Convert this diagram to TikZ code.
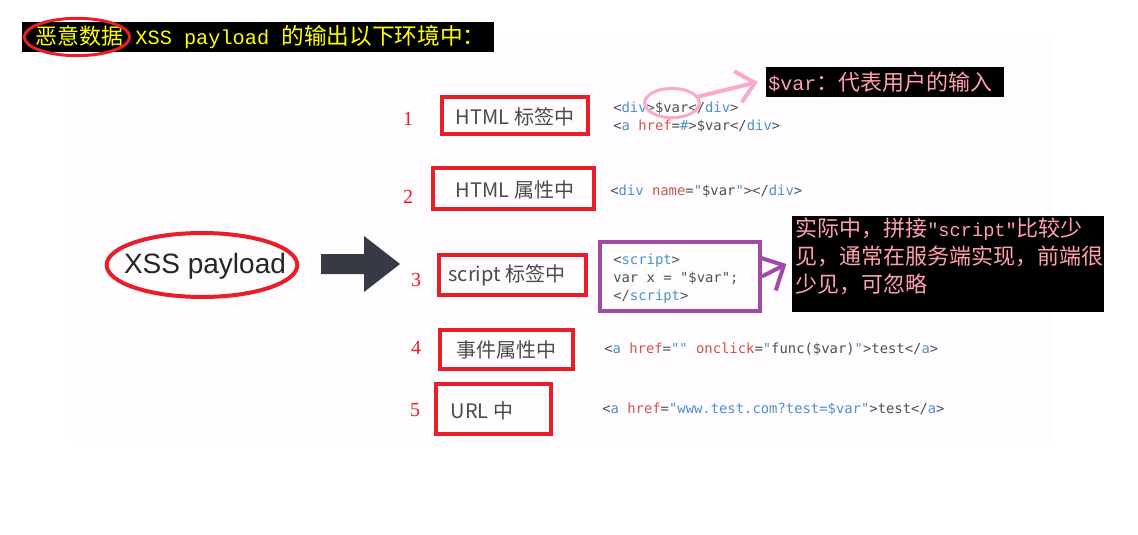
\documentclass[tikz,border=0pt]{standalone}
\usepackage{fontspec}
\usetikzlibrary{arrows.meta,shapes.geometric}
\newfontfamily\cjk{Noto Sans CJK SC}
\newfontfamily\monoA{Liberation Mono}
\newfontfamily\codefont{DejaVu Sans Mono}
\newfontfamily\numfont{Liberation Serif}
\newfontfamily\sansA{Liberation Sans}
\definecolor{slidebg}{RGB}{254,252,254}
\definecolor{boxred}{RGB}{232,30,40}
\definecolor{titleyellow}{RGB}{255,255,0}
\definecolor{notepink}{RGB}{255,160,175}
\definecolor{linepink}{RGB}{248,170,200}
\definecolor{boxpurple}{RGB}{160,75,165}
\definecolor{arrowdark}{RGB}{54,58,69}
\definecolor{codegray}{RGB}{80,80,80}
\definecolor{codeblue}{RGB}{75,145,205}
\definecolor{codered}{RGB}{205,85,75}
\definecolor{handgray}{RGB}{75,75,75}
\newcommand\cgy[1]{\textcolor{codegray}{#1}}
\newcommand\cbu[1]{\textcolor{codeblue}{#1}}
\newcommand\crd[1]{\textcolor{codered}{#1}}
\newcommand\fcjk{\cjk\fontsize{16.5pt}{21pt}\selectfont}
\newcommand\fcjkT{\cjk\fontsize{17pt}{21pt}\selectfont}
\newcommand\fmonoT{\monoA\fontsize{15.2pt}{20pt}\selectfont}
\tikzset{
  x=0.75pt, y=-0.75pt,
  blackbox/.style={fill=black, draw=none, inner sep=0pt},
  redbox/.style={draw=boxred, line width=3pt, inner sep=0pt},
  numlabel/.style={text=boxred, font=\numfont\fontsize{15pt}{18pt}\selectfont, inner sep=0pt},
  handlabel/.style={text=handgray, font=\cjk\fontsize{15pt}{18pt}\selectfont, inner sep=0pt},
  codeline/.style={anchor=west, inner sep=0pt, font=\codefont\fontsize{10.4pt}{13.5pt}\selectfont, text=codegray},
  notetext/.style={anchor=west, inner sep=0pt, text=notepink, font=\fcjk, align=left},
  pinkarrow/.style={draw=linepink, line width=3pt, line cap=round, -{Straight Barb[length=13pt,width=24pt]}},
  purplearrow/.style={draw=boxpurple, line width=3pt, -{Straight Barb[length=14pt,width=28pt]}}
}
\begin{document}
\begin{tikzpicture}
\path[use as bounding box] (0,0) rectangle (1138,535);
% slide background
\fill[slidebg] (70,37) rectangle (1053,443);

% title bar
\node[blackbox, minimum width=354pt, minimum height=22.5pt] (titlebox) at (258,37) {};
\node[anchor=west, inner sep=0pt, text=titleyellow] (titletext) at (35,37)
  {{\fcjk 恶意数据}{\fmonoT\ XSS payload\ }{\fcjkT 的输出以下环境中：}};
\node[draw=boxred, line width=2.25pt, ellipse, minimum width=79pt, minimum height=28pt, inner sep=0pt] (titleell) at (77,37) {};

% XSS payload
\node[text=black!85, font=\sansA\fontsize{21pt}{24pt}\selectfont, inner sep=0pt] (xss) at (205,266) {XSS payload};
\node[draw=boxred, line width=3pt, ellipse, minimum width=143pt, minimum height=48pt, inner sep=0pt] (xssell) at (202,265) {};

% big arrow
\fill[arrowdark] (321,254) -- (364,254) -- (364,236) -- (400,264) -- (364,292) -- (364,274) -- (321,274) -- cycle;

% numbers
\node[numlabel] (n1) at (408,119) {1};
\node[numlabel] (n2) at (408,197) {2};
\node[numlabel] (n3) at (416,280) {3};
\node[numlabel] (n4) at (416,348) {4};
\node[numlabel] (n5) at (415,410) {5};

% red boxes
\node[redbox, minimum width=109.5pt, minimum height=27.75pt] (b1) at (515,115.5) {};
\node[redbox, minimum width=120.75pt, minimum height=30.75pt] (b2) at (513.5,188.5) {};
\node[redbox, minimum width=110.25pt, minimum height=30pt] (b3) at (512.5,275) {};
\node[redbox, minimum width=99.75pt, minimum height=29.25pt] (b4) at (506.5,349.5) {};
\node[redbox, minimum width=86.25pt, minimum height=37.5pt] (b5) at (493.5,409) {};

\node[handlabel] (l1) at (515,117) {HTML 标签中};
\node[handlabel] (l2) at (515,190) {HTML 属性中};
\node[handlabel] (l3) at (507,275) {script 标签中};
\node[handlabel] (l4) at (506,350) {事件属性中};
\node[handlabel] (l5) at (482,411) {URL 中};

% code
\node[codeline] (c1a) at (613,108) {\cgy{<}\cbu{div}\cgy{>\$var</}\cbu{div}\cgy{>}};
\node[codeline] (c1b) at (613,126) {\cgy{<}\cbu{a} \crd{href}\cgy{=}\cbu{\#}\cgy{>\$var</}\cbu{div}\cgy{>}};
\node[codeline] (c2) at (610,191) {\cgy{<}\cbu{div} \crd{name}\cgy{=}\cbu{"}\cgy{\$var}\cbu{"}\cgy{></}\cbu{div}\cgy{>}};
\node[draw=boxpurple, line width=3pt, minimum width=120pt, minimum height=51.75pt, inner sep=0pt] (scriptbox) at (680,276.5) {};
\node[codeline, align=left] (c3) at (613,279) {\cgy{<}\cbu{script}\cgy{>}\\\cgy{var x = "\$var";}\\\cgy{</}\cbu{script}\cgy{>}};
\node[codeline] (c4) at (604,349) {\cgy{<}\cbu{a} \crd{href}\cgy{=}\cbu{""} \crd{onclick}\cgy{=}\cbu{"}\cgy{func(\$var)}\cbu{"}\cgy{>test</}\cbu{a}\cgy{>}};
\node[codeline] (c5) at (602,409) {\cgy{<}\cbu{a} \crd{href}\cgy{=}\cbu{"www.test.com?test=\$var"}\cgy{>test</}\cbu{a}\cgy{>}};

% pink annotation
\node[draw=linepink, line width=2.25pt, ellipse, minimum width=41pt, minimum height=22pt, inner sep=0pt] (pinkell) at (672,103) {};
\node[blackbox, minimum width=178.5pt, minimum height=22.5pt] (note1) at (885,82) {};
\node[anchor=west, inner sep=0pt, text=notepink] (note1text) at (768,82)
  {{\monoA\fontsize{15pt}{18pt}\selectfont\$var}{\fcjk ：代表用户的输入}};
\draw[pinkarrow] (pinkell) -- ([xshift=-6pt]note1.west);

% purple annotation
\node[blackbox, minimum width=234pt, minimum height=72pt] (note2) at (948,264) {};
\node[notetext] (note2text) at (795,256)
  {实际中，拼接{\monoA\fontsize{14pt}{21pt}\selectfont"script"}比较少\\见，通常在服务端实现，前端很\\少见，可忽略};
\draw[purplearrow] (scriptbox.east) -- ([xshift=-4pt]note2.west);
\end{tikzpicture}
\end{document}
